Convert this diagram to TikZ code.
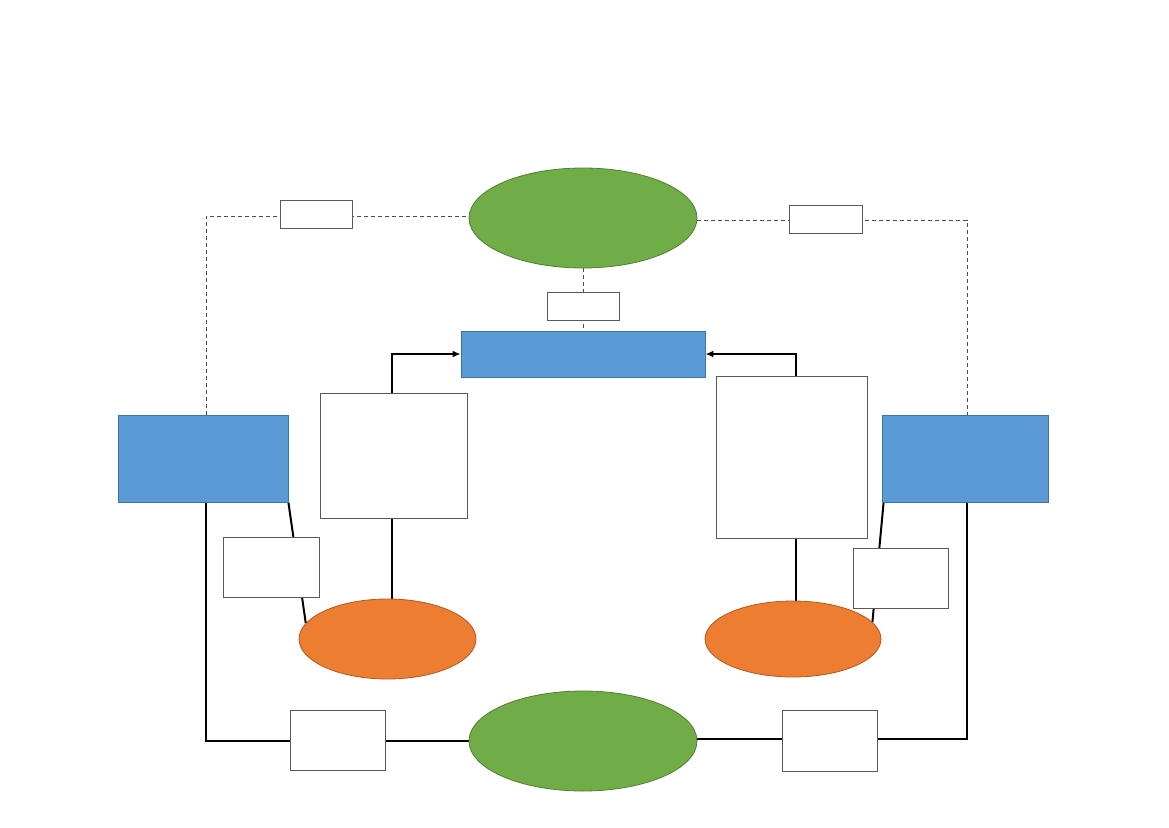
\documentclass[tikz,border=0pt]{standalone}
\usepackage{tikz}
\usetikzlibrary{shapes.geometric,arrows.meta,backgrounds}
\definecolor{leafgreen}{HTML}{70AD47}
\definecolor{leafline}{HTML}{507E32}
\definecolor{skyblue}{HTML}{5B9BD5}
\definecolor{skyline}{HTML}{41719C}
\definecolor{tangerine}{HTML}{ED7D31}
\definecolor{tangline}{HTML}{AE5A21}
\definecolor{boxline}{HTML}{595959}

\begin{document}
\begin{tikzpicture}[x=1pt,y=-1pt,
		greenell/.style={ellipse,draw=leafline,fill=leafgreen,line width=0.8pt,inner sep=0pt,minimum width=228pt,minimum height=100pt},
		orangeell/.style={ellipse,draw=tangline,fill=tangerine,line width=0.8pt,inner sep=0pt},
		bluebox/.style={rectangle,draw=skyline,fill=skyblue,line width=0.8pt,inner sep=0pt},
		whitebox/.style={rectangle,draw=boxline,fill=white,line width=0.8pt,inner sep=0pt},
		link/.style={line width=2pt,black},
		dashlink/.style={line width=0.8pt,black!70,dash pattern=on 4pt off 3pt}]
			\useasboundingbox (0,0) rectangle (1169,827);
			% the two green hubs
			\node[greenell] (tgreen) at (583,218) {};
			\node[greenell] (bgreen) at (583,741) {};
			% blue boxes
			\node[bluebox,minimum width=244pt,minimum height=46pt] (tblue) at (583,354) {};
			\node[bluebox,minimum width=170pt,minimum height=87pt] (lblue) at (203,458.5) {};
			\node[bluebox,minimum width=166pt,minimum height=87pt] (rblue) at (965,458.5) {};
			% orange ellipses
			\node[orangeell,minimum width=177pt,minimum height=80pt] (lorange) at (387.5,639) {};
			\node[orangeell,minimum width=176pt,minimum height=76pt] (rorange) at (793,639) {};
			% white boxes
			\node[whitebox,minimum width=72pt,minimum height=28pt] (labtl) at (316,214) {};
			\node[whitebox,minimum width=73pt,minimum height=28pt] (labtr) at (825.5,219) {};
			\node[whitebox,minimum width=72pt,minimum height=28pt] (labc) at (583,306) {};
			\node[whitebox,minimum width=147pt,minimum height=125pt] (lbig) at (393.5,455.5) {};
			\node[whitebox,minimum width=151pt,minimum height=162pt] (rbig) at (791.5,457) {};
			\node[whitebox,minimum width=96pt,minimum height=60pt] (lsmall) at (271,567) {};
			\node[whitebox,minimum width=95pt,minimum height=60pt] (rsmall) at (900.5,578) {};
			\node[whitebox,minimum width=95pt,minimum height=60pt] (blbox) at (337.5,740) {};
			\node[whitebox,minimum width=95pt,minimum height=61pt] (brbox) at (829.5,740.5) {};
			% connectors, under the boxes
			\begin{scope}[on background layer]
				\draw[dashlink] (tgreen.1) -| ([xshift=3pt]lblue.north);
				\draw[dashlink] (tgreen.-1.5) -| ([xshift=2pt]rblue.north);
				\draw[dashlink] (tgreen.south) -- (tblue.north);
				\draw[link,-{Latex[length=8pt,width=7pt]}] ([xshift=-1.5pt]lbig.north) |- (tblue.west);
				\draw[link,-{Latex[length=8pt,width=7pt]}] ([xshift=4.5pt]rbig.north) |- (tblue.east);
				\draw[link] ([xshift=-1.5pt]lbig.south) -- ([xshift=-1.5pt]lbig.south |- lorange.north);
				\draw[link] ([xshift=4.5pt]rbig.south) -- ([xshift=4.5pt]rbig.south |- rorange.north);
				\draw[link] (lblue.south east) -- (lorange.169);
				\draw[link] ([xshift=2pt]rblue.south west) -- (rorange.12);
				\draw[link] ([xshift=3pt]lblue.south) |- (bgreen.west);
				\draw[link] ([xshift=2pt]rblue.south) |- ([yshift=2pt]bgreen.east);
			\end{scope}
		\end{tikzpicture}
\end{document}
